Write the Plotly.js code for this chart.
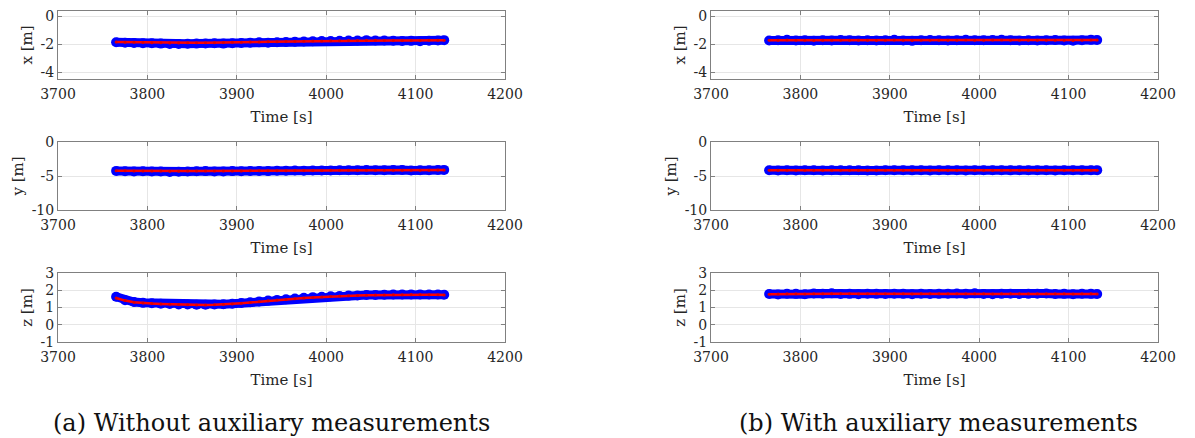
<!DOCTYPE html>
<html>
<head>
<meta charset="utf-8">
<script src="https://cdn.plot.ly/plotly-3.0.1.min.js"></script>
<style>html,body{margin:0;padding:0;background:#fff;}#chart{width:1195px;height:438px;}</style>
</head>
<body>
<div id="chart"></div>
<script>
// ---- Data ----
var time = [3765,3775,3785,3795,3805,3815,3825,3835,3845,3855,3865,3875,3885,3895,3905,3915,3925,3935,3945,3955,3965,3975,3985,3995,4005,4015,4025,4035,4045,4055,4065,4075,4085,4095,4105,4115,4125,4132];

// (a) Without auxiliary measurements
var xMeasA = [-1.85,-1.88,-1.90,-1.92,-1.93,-1.95,-1.97,-1.98,-1.96,-1.95,-1.94,-1.93,-1.95,-1.92,-1.90,-1.88,-1.86,-1.88,-1.85,-1.83,-1.82,-1.80,-1.78,-1.77,-1.76,-1.75,-1.73,-1.72,-1.70,-1.72,-1.73,-1.74,-1.76,-1.75,-1.78,-1.74,-1.72,-1.70];
var xEstA  = [-1.84,-1.85,-1.86,-1.87,-1.88,-1.89,-1.90,-1.90,-1.89,-1.89,-1.88,-1.88,-1.87,-1.86,-1.85,-1.84,-1.83,-1.82,-1.81,-1.80,-1.79,-1.78,-1.77,-1.76,-1.75,-1.74,-1.73,-1.72,-1.71,-1.71,-1.72,-1.72,-1.73,-1.72,-1.72,-1.71,-1.70,-1.70];
var yMeasA = [-4.25,-4.30,-4.35,-4.30,-4.32,-4.35,-4.40,-4.38,-4.33,-4.30,-4.28,-4.35,-4.32,-4.28,-4.30,-4.27,-4.25,-4.28,-4.24,-4.22,-4.20,-4.22,-4.18,-4.20,-4.18,-4.16,-4.15,-4.14,-4.12,-4.14,-4.15,-4.13,-4.12,-4.18,-4.14,-4.15,-4.12,-4.10];
var yEstA  = [-4.22,-4.24,-4.26,-4.27,-4.28,-4.28,-4.29,-4.29,-4.28,-4.28,-4.27,-4.27,-4.26,-4.26,-4.25,-4.24,-4.23,-4.23,-4.22,-4.21,-4.20,-4.20,-4.19,-4.18,-4.17,-4.16,-4.15,-4.15,-4.14,-4.14,-4.14,-4.14,-4.14,-4.15,-4.15,-4.14,-4.13,-4.12];
var zMeasA = [1.62,1.42,1.32,1.27,1.25,1.22,1.20,1.18,1.17,1.16,1.16,1.17,1.19,1.22,1.26,1.30,1.35,1.40,1.44,1.48,1.52,1.56,1.60,1.62,1.65,1.67,1.69,1.70,1.72,1.73,1.74,1.75,1.75,1.76,1.76,1.75,1.75,1.74];
var zEstA  = [1.55,1.40,1.31,1.26,1.23,1.21,1.19,1.17,1.16,1.15,1.15,1.16,1.18,1.21,1.25,1.29,1.34,1.39,1.43,1.47,1.51,1.55,1.58,1.61,1.64,1.66,1.68,1.69,1.71,1.72,1.73,1.74,1.74,1.75,1.75,1.74,1.74,1.73];

// (b) With auxiliary measurements
var xMeasB = [-1.72,-1.70,-1.68,-1.72,-1.70,-1.74,-1.71,-1.73,-1.69,-1.70,-1.72,-1.71,-1.73,-1.70,-1.68,-1.72,-1.75,-1.70,-1.69,-1.71,-1.72,-1.70,-1.68,-1.71,-1.70,-1.69,-1.67,-1.70,-1.72,-1.71,-1.73,-1.70,-1.69,-1.72,-1.74,-1.70,-1.68,-1.69];
var xEstB  = [-1.70,-1.70,-1.69,-1.71,-1.70,-1.72,-1.70,-1.71,-1.70,-1.70,-1.71,-1.70,-1.72,-1.70,-1.69,-1.71,-1.72,-1.70,-1.70,-1.70,-1.71,-1.70,-1.69,-1.70,-1.70,-1.69,-1.69,-1.70,-1.71,-1.70,-1.71,-1.70,-1.70,-1.71,-1.72,-1.70,-1.69,-1.69];
var yMeasB = [-4.15,-4.18,-4.14,-4.20,-4.16,-4.15,-4.19,-4.14,-4.17,-4.16,-4.14,-4.18,-4.20,-4.15,-4.16,-4.14,-4.17,-4.15,-4.18,-4.14,-4.16,-4.15,-4.19,-4.14,-4.16,-4.15,-4.14,-4.17,-4.15,-4.16,-4.14,-4.15,-4.18,-4.15,-4.16,-4.14,-4.15,-4.14];
var yEstB  = [-4.16,-4.16,-4.15,-4.17,-4.16,-4.16,-4.17,-4.15,-4.16,-4.16,-4.15,-4.16,-4.17,-4.16,-4.16,-4.15,-4.16,-4.16,-4.16,-4.15,-4.16,-4.16,-4.17,-4.15,-4.16,-4.16,-4.15,-4.16,-4.16,-4.16,-4.15,-4.16,-4.16,-4.16,-4.16,-4.15,-4.15,-4.15];
var zMeasB = [1.78,1.76,1.80,1.79,1.77,1.81,1.80,1.82,1.78,1.79,1.77,1.80,1.79,1.78,1.80,1.79,1.77,1.80,1.78,1.79,1.80,1.81,1.79,1.82,1.78,1.77,1.79,1.80,1.78,1.79,1.80,1.81,1.78,1.79,1.77,1.80,1.79,1.78];
var zEstB  = [1.77,1.78,1.79,1.79,1.78,1.79,1.79,1.80,1.79,1.79,1.78,1.79,1.79,1.79,1.79,1.79,1.78,1.79,1.79,1.79,1.79,1.80,1.79,1.80,1.79,1.78,1.79,1.79,1.79,1.79,1.79,1.80,1.79,1.79,1.78,1.79,1.79,1.78];

var timeTicks = [3700,3800,3900,4000,4100,4200];
var xTicks = [0,-2,-4], xTickText = ['0','-2','-4'];
var yTicks = [0,-5,-10], yTickText = ['0','-5','-10'];
var zTicks = [3,2,1,0,-1], zTickText = ['3','2','1','0','-1'];
var captionA = '(a) Without auxiliary measurements';
var captionB = '(b) With auxiliary measurements';

// ---- Styling ----
var FONT = '"DejaVu Serif", serif';
var W = 1195, H = 438;
function px(v){return v/W;}
function py(top,bottom){return [1-bottom/H, 1-top/H];}

var colL = [px(58), px(505)], colR = [px(711), px(1158)];
var rows = [py(11,79), py(142,210), py(273,342)];

function xAxis(dom, anchor){
  return {domain: dom, anchor: anchor, range:[3700,4200], tickvals: timeTicks,
    showgrid:true, gridcolor:'#e6e6e6', gridwidth:1, zeroline:false,
    showline:true, linecolor:'#808080', linewidth:1, mirror:'ticks',
    ticks:'inside', ticklen:4, tickcolor:'#808080', ticklabelstandoff:2,
    tickfont:{family:FONT, size:14, color:'#262626'},
    title:{text:'Time [s]', font:{family:FONT, size:15, color:'#262626'}, standoff:10}};
}
function yAxis(dom, anchor, range, tv, tt, label){
  return {domain: dom, anchor: anchor, range: range, tickvals: tv, ticktext: tt,
    showgrid:true, gridcolor:'#e6e6e6', gridwidth:1, zeroline:false,
    showline:true, linecolor:'#808080', linewidth:1, mirror:'ticks',
    ticks:'inside', ticklen:4, tickcolor:'#808080',
    tickfont:{family:FONT, size:14, color:'#262626'},
    title:{text: label, font:{family:FONT, size:15, color:'#262626'}, standoff:4}};
}

function meas(y, xa, ya){
  return {x: time, y: y, xaxis: xa, yaxis: ya, type:'scatter', mode:'lines+markers',
    line:{color:'#0000ff', width:9}, marker:{color:'#0000ff', size:10}, showlegend:false, hoverinfo:'skip'};
}
function est(y, xa, ya){
  return {x: time, y: y, xaxis: xa, yaxis: ya, type:'scatter', mode:'lines+markers',
    line:{color:'#ff0000', width:2.5}, marker:{color:'#e00000', size:3}, showlegend:false, hoverinfo:'skip'};
}

var data = [
  meas(xMeasA,'x','y'), est(xEstA,'x','y'),
  meas(yMeasA,'x2','y2'), est(yEstA,'x2','y2'),
  meas(zMeasA,'x3','y3'), est(zEstA,'x3','y3'),
  meas(xMeasB,'x4','y4'), est(xEstB,'x4','y4'),
  meas(yMeasB,'x5','y5'), est(yEstB,'x5','y5'),
  meas(zMeasB,'x6','y6'), est(zEstB,'x6','y6')
];

var xRange = [-4.5,0.4], yRange = [-10,0], zRange = [-1,3];

var layout = {
  width: W, height: H, margin:{l:0,r:0,t:0,b:0},
  paper_bgcolor:'#ffffff', plot_bgcolor:'#ffffff', showlegend:false,
  xaxis:  xAxis(colL,'y'),  yaxis:  yAxis(rows[0],'x', xRange, xTicks, xTickText, 'x [m]'),
  xaxis2: xAxis(colL,'y2'), yaxis2: yAxis(rows[1],'x2', yRange, yTicks, yTickText, 'y [m]'),
  xaxis3: xAxis(colL,'y3'), yaxis3: yAxis(rows[2],'x3', zRange, zTicks, zTickText, 'z [m]'),
  xaxis4: xAxis(colR,'y4'), yaxis4: yAxis(rows[0],'x4', xRange, xTicks, xTickText, 'x [m]'),
  xaxis5: xAxis(colR,'y5'), yaxis5: yAxis(rows[1],'x5', yRange, yTicks, yTickText, 'y [m]'),
  xaxis6: xAxis(colR,'y6'), yaxis6: yAxis(rows[2],'x6', zRange, zTicks, zTickText, 'z [m]'),
  annotations: [
    {text: captionA, xref:'paper', yref:'paper', x: px(271), y: 1-423/H, xanchor:'center', yanchor:'middle',
     showarrow:false, font:{family:FONT, size:24, color:'#111111'}},
    {text: captionB, xref:'paper', yref:'paper', x: px(938), y: 1-423/H, xanchor:'center', yanchor:'middle',
     showarrow:false, font:{family:FONT, size:24, color:'#111111'}}
  ]
};

Plotly.newPlot('chart', data, layout, {staticPlot:true, displayModeBar:false});
</script>
</body>
</html>
